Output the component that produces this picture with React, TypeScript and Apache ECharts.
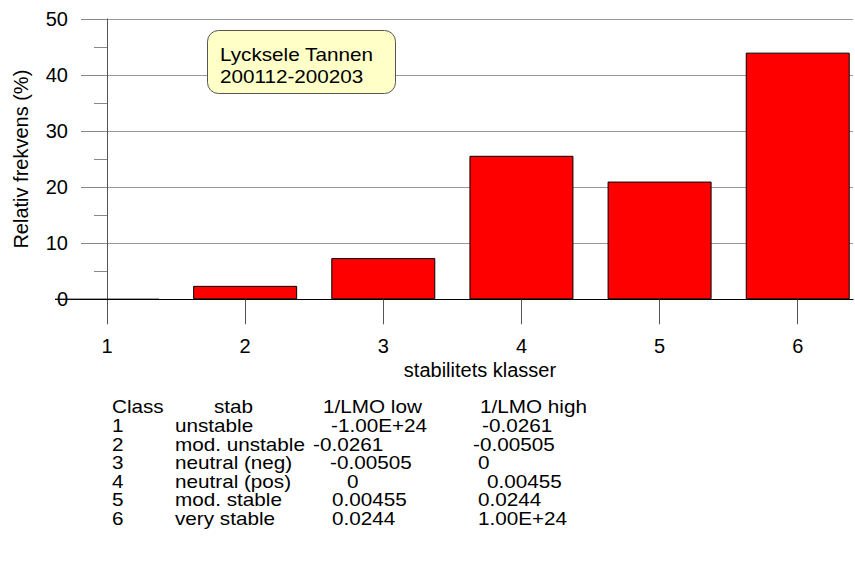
import React, { useEffect, useRef } from "react";
import * as echarts from "echarts";

// ---- data ----
const classes = [1, 2, 3, 4, 5, 6];
const frequency = [0, 2.4, 7.35, 25.6, 21.0, 44.0];
const xTickValues = [1, 2, 3, 4, 5, 6];

const yAxisTitle = "Relativ frekvens (%)";
const xAxisTitle = "stabilitets klasser";
const annotationLines = ["Lycksele Tannen", "200112-200203"];

const tableHeader = ["Class", "stab", "1/LMO low", "1/LMO high"];
const tableClass = ["1", "2", "3", "4", "5", "6"];
const tableStab = ["unstable", "mod. unstable", "neutral (neg)", "neutral (pos)", "mod. stable", "very stable"];
const tableLow = ["-1.00E+24", "-0.0261", "-0.00505", "0", "0.00455", "0.0244"];
const tableHigh = ["-0.0261", "-0.00505", "0", "0.00455", "0.0244", "1.00E+24"];

// ---- layout (positions only) ----
const FONT = "Arial, 'Liberation Sans', sans-serif";
const FS = 20;
const TFS = 18;
const TSCALE = 1.15;
const tableTop = 407;
const rowStep = 18.6;
const headerX = [112, 214, 323, 480];
const classX = 112;
const stabX = 175;
const lowX = [331, 313, 330, 347, 332, 332];
const highX = [482, 473, 478, 487, 478, 478];

export default function App() {
  const ref = useRef<HTMLDivElement>(null);
  useEffect(() => {
    if (!ref.current) return;
    const chart = echarts.init(ref.current, null, { renderer: "svg" });

    const txt = (s: string, x: number, y: number, fs: number, sx: number) => ({
      type: "text",
      x,
      y,
      scaleX: sx,
      style: {
        text: s,
        fill: "#000",
        fontSize: fs,
        fontFamily: FONT,
        lineHeight: fs,
        verticalAlign: "middle",
        align: "left",
      },
      silent: true,
    });

    const graphics: any[] = [];
    // annotation box
    graphics.push({
      type: "rect",
      shape: { x: 207.5, y: 30.5, width: 188, height: 63, r: 11 },
      style: { fill: "#ffffc8", stroke: "#555", lineWidth: 1 },
      z: 10,
    });
    annotationLines.forEach((s, i) => {
      graphics.push({ ...txt(s, 220, 55 + i * 22, TFS, TSCALE), z: 11 });
    });
    // table
    tableHeader.forEach((h, i) => graphics.push(txt(h, headerX[i], tableTop, TFS, TSCALE)));
    tableClass.forEach((c, i) => {
      const y = tableTop + (i + 1) * rowStep;
      graphics.push(txt(c, classX, y, TFS, TSCALE));
      graphics.push(txt(tableStab[i], stabX, y, TFS, TSCALE));
      graphics.push(txt(tableLow[i], lowX[i], y, TFS, TSCALE));
      graphics.push(txt(tableHigh[i], highX[i], y, TFS, TSCALE));
    });

    chart.setOption({
      animation: false,
      backgroundColor: "#fff",
      textStyle: { fontFamily: FONT },
      grid: { left: 107, top: 19, right: 2, bottom: 264.7, containLabel: false },
      xAxis: {
        type: "value",
        min: 1,
        max: 6.4,
        interval: 1,
        name: xAxisTitle,
        nameLocation: "middle",
        nameGap: 61,
        nameTextStyle: { fontSize: FS, color: "#000", fontFamily: FONT },
        axisLine: { show: true, lineStyle: { color: "#000", width: 1 } },
        axisTick: { show: true, length: 25, inside: false, customValues: xTickValues, lineStyle: { color: "#555" } },
        axisLabel: { customValues: xTickValues, margin: 37, fontSize: FS, color: "#000", fontFamily: FONT },
        splitLine: { show: false },
      },
      yAxis: {
        type: "value",
        min: 0,
        max: 50,
        interval: 10,
        name: yAxisTitle,
        nameLocation: "middle",
        nameGap: 76,
        nameRotate: 90,
        nameTextStyle: { fontSize: FS, color: "#000", fontFamily: FONT },
        axisLine: { show: true, lineStyle: { color: "#555", width: 1 } },
        axisTick: { show: true, length: 26, inside: false, lineStyle: { color: "#888" } },
        minorTick: { show: true, splitNumber: 2, length: 13, lineStyle: { color: "#888" } },
        axisLabel: { margin: 39, fontSize: FS, color: "#000", fontFamily: FONT },
        splitLine: { show: true, lineStyle: { color: "#9a9a9a", width: 1 } },
      },
      series: [
        {
          type: "bar",
          data: classes.map((c, i) => [c, frequency[i]]),
          barWidth: 104,
          itemStyle: { color: "#ff0000", borderColor: "#000", borderWidth: 1 },
          clip: true,
        },
      ],
      graphic: graphics,
    });
    return () => chart.dispose();
  }, []);
  return <div ref={ref} style={{ position: "fixed", left: 0, top: 0, width: 855, height: 564 }} />;
}
